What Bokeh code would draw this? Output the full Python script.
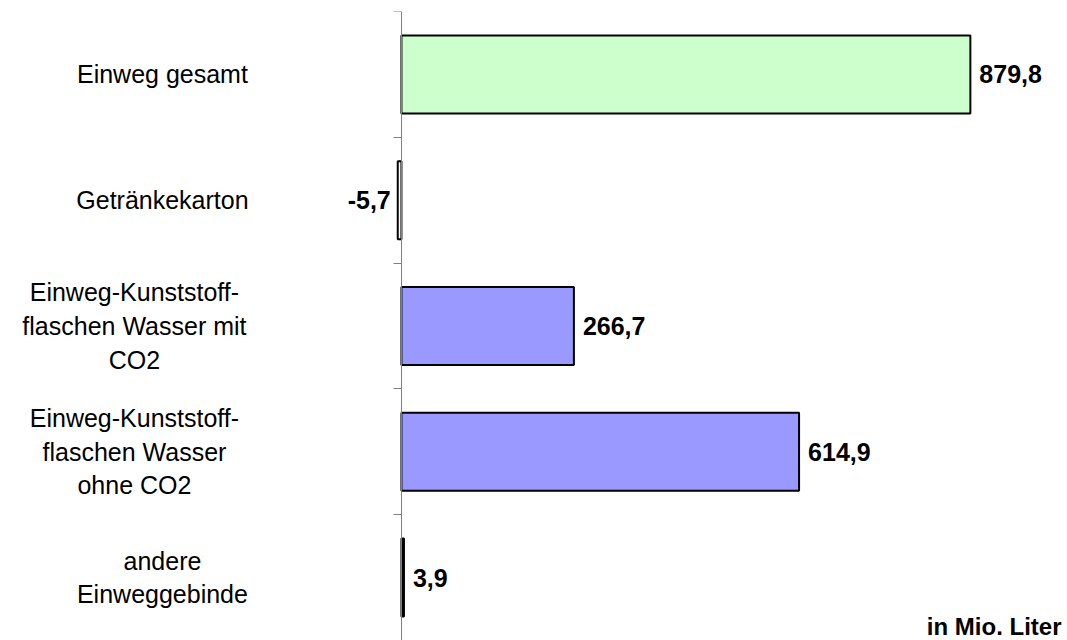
from bokeh.plotting import figure
from bokeh.models import Range1d, LinearAxis, FixedTicker, ColumnDataSource, Label
from bokeh.core.properties import value
from bokeh.embed import file_html
from bokeh.resources import INLINE

# ---- data ----
categories = [
    "Einweg gesamt",
    "Getränkekarton",
    "Einweg-Kunststoff-\nflaschen Wasser mit\nCO2",
    "Einweg-Kunststoff-\nflaschen Wasser\nohne CO2",
    "andere\nEinweggebinde",
]
values = [879.8, -5.7, 266.7, 614.9, 3.9]
unit_label = "in Mio. Liter"

# ---- styles / layout ----
bar_colors = ["#CCFFCC", "#FFFFFF", "#9999FF", "#9999FF", "#000000"]
label_offsets = [-239, -239, -267, -267, -239]
FONT = "Liberation Sans"

n = len(categories)
pos = [i + 0.5 for i in range(n)]
val_text = [("%.1f" % v).replace(".", ",") for v in values]
val_align = ["left" if v >= 0 else "right" for v in values]
val_off = [9 if v >= 0 else -7 for v in values]

src = ColumnDataSource(dict(
    y=pos, v=values, c=bar_colors, cat=categories, lo=label_offsets,
    vt=val_text, va=val_align, vo=val_off, zero=[0] * n,
))

p = figure(width=1067, height=640, output_backend="svg", toolbar_location=None,
           x_range=Range1d(-620, 1030), y_range=Range1d(n, 0),
           x_axis_location=None, y_axis_location=None,
           min_border_left=0, min_border_right=0, min_border_top=11, min_border_bottom=0)
p.outline_line_color = None
p.xgrid.visible = False
p.ygrid.visible = False
p.background_fill_color = "white"
p.border_fill_color = "white"

ticks = list(range(n + 1))
ax = LinearAxis(ticker=FixedTicker(ticks=ticks))
ax.fixed_location = 0
ax.major_label_overrides = {t: "" for t in ticks}
ax.major_label_standoff = 0
ax.major_tick_out = 8
ax.major_tick_in = 0
ax.minor_tick_out = 0
ax.minor_tick_in = 0
ax.axis_line_color = "#808080"
ax.major_tick_line_color = "#808080"
ax.axis_line_width = 1
p.add_layout(ax, "left")

p.hbar(y="y", left=0, right="v", height=0.62, fill_color="c",
       line_color="black", line_width=2, source=src)

p.text(x="zero", y="y", text="cat", x_offset="lo", source=src,
       text_font=value(FONT), text_font_size="25px", text_color="black",
       text_align="center", text_baseline="middle", text_line_height=1.2)

p.text(x="v", y="y", text="vt", x_offset="vo", text_align="va", source=src,
       text_font=value(FONT), text_font_size="25px", text_font_style="bold",
       text_color="black", text_baseline="middle")

p.add_layout(Label(x=1030, y=n, text=unit_label, x_offset=-6, y_offset=14,
                   text_align="right", text_baseline="alphabetic",
                   text_font=FONT, text_font_size="24px", text_font_style="bold",
                   text_color="black"))

open("out.html", "w").write(file_html(p, INLINE))
